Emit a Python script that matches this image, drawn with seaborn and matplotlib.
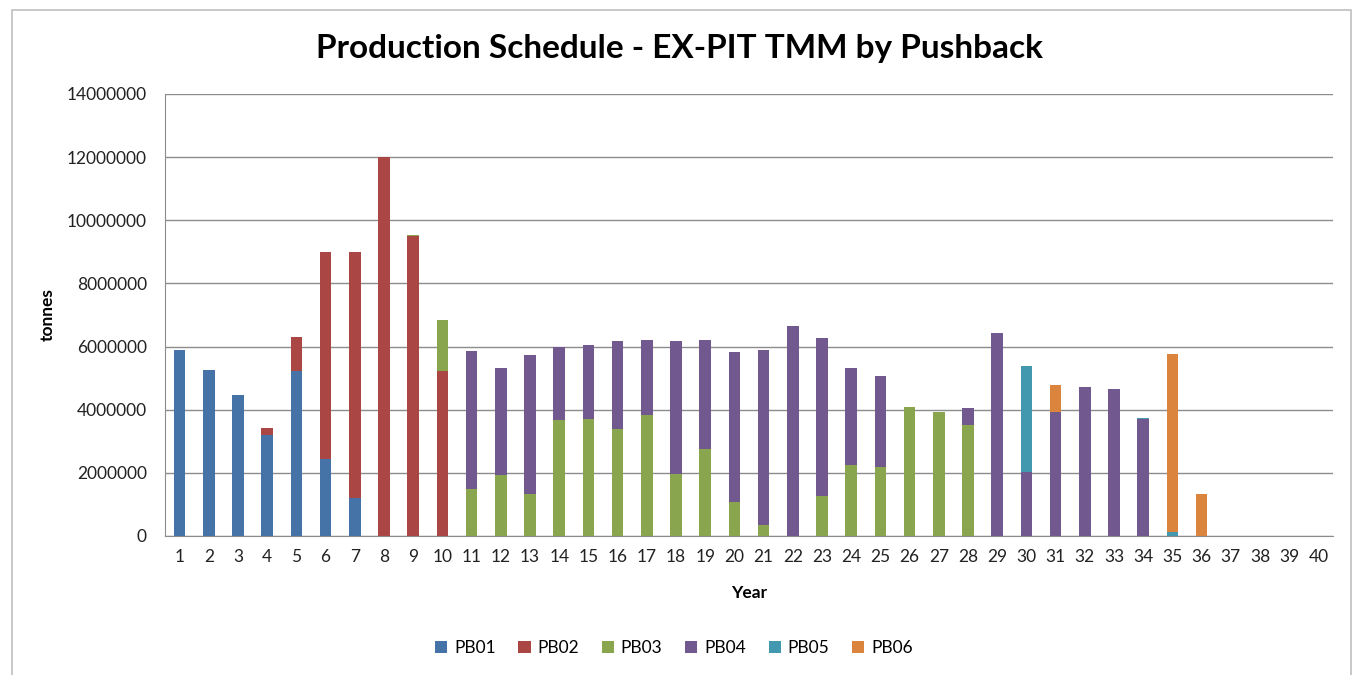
import matplotlib
matplotlib.use("Agg")
import matplotlib.pyplot as plt
from matplotlib.patches import Patch, Rectangle
import seaborn as sns
import numpy as np
import pandas as pd

# tonnes moved per year, split by pushback
years = list(range(1, 41))
pb01 = [5880000, 5270000, 4470000, 3200000, 5230000, 2430000, 1210000, 0, 0, 0] + [0] * 30
pb02 = [0, 0, 0, 220000, 1080000, 6570000, 7790000, 12000000, 9490000, 5240000] + [0] * 30
pb03 = ([0] * 8 + [30000, 1600000,
        1480000, 1930000, 1330000, 3660000, 3700000, 3390000, 3820000, 1970000, 2770000, 1080000,
        340000, 0, 1270000, 2250000, 2190000, 4100000, 3940000, 3510000, 0, 0]
        + [0] * 10)
pb04 = ([0] * 10 +
        [4370000, 3400000, 4390000, 2330000, 2340000, 2780000, 2380000, 4200000, 3430000, 4750000,
         5540000, 6650000, 4990000, 3080000, 2870000, 0, 0, 540000, 6420000, 2030000,
         3940000, 4730000, 4660000, 3710000, 0, 0, 0, 0, 0, 0])
pb05 = [0] * 29 + [3360000, 0, 0, 0, 30000, 130000, 0, 0, 0, 0, 0]
pb06 = [0] * 30 + [850000, 0, 0, 0, 5620000, 1330000, 0, 0, 0, 0]

series_names = ["PB01", "PB02", "PB03", "PB04", "PB05", "PB06"]
colors = ["#4572A7", "#AA4643", "#89A54E", "#71588F", "#4198AF", "#DB843D"]

df = pd.DataFrame({"Year": [str(y) for y in years], "PB01": pb01, "PB02": pb02,
                   "PB03": pb03, "PB04": pb04, "PB05": pb05, "PB06": pb06})
cum = df[series_names].cumsum(axis=1)

sns.set_style("white")
plt.rcParams["font.family"] = ["Lato", "DejaVu Sans"]
plt.rcParams["text.color"] = "black"
plt.rcParams["axes.labelcolor"] = "black"
plt.rcParams["xtick.labelcolor"] = "#222222"
plt.rcParams["ytick.labelcolor"] = "#222222"

fig = plt.figure(figsize=(13.56, 6.75), dpi=100)
ax = fig.add_axes([165 / 1356, 139 / 675, 1168 / 1356, 442 / 675])

# stacked bars: draw cumulative totals from the top series down
for name, col in reversed(list(zip(series_names, colors))):
    sns.barplot(x=df["Year"], y=cum[name], color=col, width=0.4, ax=ax,
                order=df["Year"], saturation=1, linewidth=0)

ax.set_xlim(-0.5, 39.5)
ax.set_ylim(0, 14000000)
ax.set_yticks(np.arange(0, 14000001, 2000000))
ax.set_yticklabels([f"{int(v)}" for v in np.arange(0, 14000001, 2000000)], fontsize=12.5)
ax.yaxis.grid(True, color="#8c8c8c", linewidth=1)
ax.set_axisbelow(True)
ax.set_xticks(range(40))
ax.set_xticklabels([str(y) for y in years], fontsize=12.5)
ax.set_xticks(np.arange(-0.5, 40, 1), minor=True)
ax.tick_params(axis="x", which="major", length=0, pad=9)
ax.tick_params(axis="x", which="minor", length=5, color="#8c8c8c", direction="out")
ax.tick_params(axis="y", length=5, color="#8c8c8c", direction="out", pad=8)

for s in ["top", "right"]:
    ax.spines[s].set_visible(False)
for s in ["left", "bottom"]:
    ax.spines[s].set_color("#8c8c8c")

ax.set_xlabel("Year", fontsize=12.5, fontweight="bold", labelpad=15)
ax.set_ylabel("tonnes", fontsize=12.5, fontweight="bold", labelpad=8)

fig.suptitle("Production Schedule - EX-PIT TMM by Pushback", x=0.501, y=0.95,
             fontsize=24, fontweight="bold")

handles = [Patch(facecolor=c, edgecolor="none") for c in colors]
fig.legend(handles, series_names, loc="center", bbox_to_anchor=(0.497, 0.04), ncol=6,
           frameon=False, fontsize=12.5, handlelength=0.7, handleheight=0.7,
           handletextpad=0.4, columnspacing=1.3)

# chart outer border
fig.patches.append(Rectangle((12 / 1356, -0.01), 1339 / 1356, 0.995, transform=fig.transFigure,
                             fill=False, edgecolor="#bfbfbf", linewidth=1.2))

fig.savefig("out.png", dpi=100)
